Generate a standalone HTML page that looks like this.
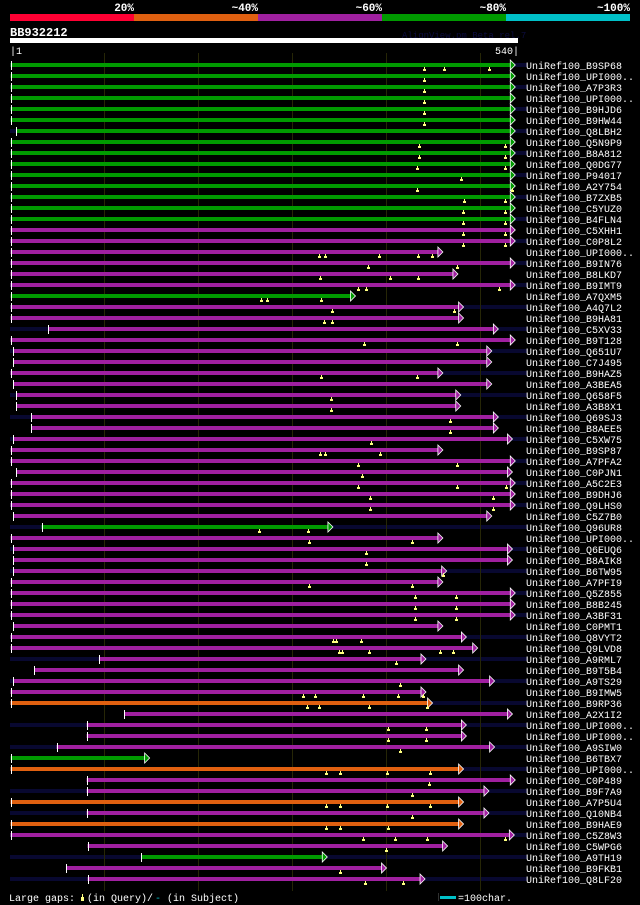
<!DOCTYPE html>
<html><head><meta charset="utf-8"><title>BB932212 alignment</title>
<style>
html,body{margin:0;padding:0;background:#000;}
svg{display:block;}
text{font-family:"Liberation Mono","DejaVu Sans Mono",monospace;}
</style></head>
<body>
<svg id="chart" width="640" height="905" viewBox="0 0 640 905" xmlns="http://www.w3.org/2000/svg">
<rect x="0" y="0" width="640" height="905" fill="#000"/>
<g>
<rect x="10" y="14" width="124" height="7" fill="#ff0033"/>
<rect x="134" y="14" width="124" height="7" fill="#e06010"/>
<rect x="258" y="14" width="124" height="7" fill="#a020a0"/>
<rect x="382" y="14" width="124" height="7" fill="#009a00"/>
<rect x="506" y="14" width="124" height="7" fill="#00c0c8"/>
<text x="134" y="11" fill="#fff" font-size="11" font-weight="bold" text-anchor="end">20%</text>
<text x="258" y="11" fill="#fff" font-size="11" font-weight="bold" text-anchor="end">~40%</text>
<text x="382" y="11" fill="#fff" font-size="11" font-weight="bold" text-anchor="end">~60%</text>
<text x="506" y="11" fill="#fff" font-size="11" font-weight="bold" text-anchor="end">~80%</text>
<text x="630" y="11" fill="#fff" font-size="11" font-weight="bold" text-anchor="end">~100%</text>
</g>
<text x="10" y="36" fill="#fff" font-size="12" font-weight="bold">BB932212</text>
<text x="402" y="38" fill="#0c0c40" font-size="9">AlignView.pm Beta rel.7</text>
<rect x="10" y="38" width="508" height="5" fill="#fff"/>
<text x="10" y="54" fill="#fff" font-size="10">|1</text>
<text x="519" y="54" fill="#fff" font-size="10" text-anchor="end">540|</text>
<g id="rows"></g>
<g>
<text x="9" y="901" fill="#fff" font-size="10">Large gaps:</text>
<rect x="82" y="894" width="1" height="3" fill="#ffff80"/>
<rect x="81" y="897" width="3" height="4" fill="#ffff80"/>
<text x="87" y="901" fill="#fff" font-size="10">(in Query)/</text>
<text x="155" y="901" fill="#00c0c8" font-size="10">-</text>
<text x="167" y="901" fill="#fff" font-size="10">(in Subject)</text>
<rect x="438" y="893" width="1" height="8" fill="#303030"/>
<rect x="440" y="896" width="16" height="3" fill="#00c0c8"/>
<text x="458" y="901" fill="#fff" font-size="10">=100char.</text>
</g>
</svg>
<script>
const names = ["B9SP68","UPI000..","A7P3R3","UPI000..","B9HJD6","B9HW44","Q8LBH2","Q5N9P9","B8A812","Q0DG77",
"P94017","A2Y754","B7ZXB5","C5YUZ0","B4FLN4","C5XHH1","C0P8L2","UPI000..","B9IN76","B8LKD7",
"B9IMT9","A7QXM5","A4Q7L2","B9HA81","C5XV33","B9T128","Q651U7","C7J495","B9HAZ5","A3BEA5",
"Q658F5","A3B8X1","Q69SJ3","B8AEE5","C5XW75","B9SP87","A7PFA2","C0PJN1","A5C2E3","B9DHJ6",
"Q9LHS0","C5Z7B0","Q96UR8","UPI000..","Q6EUQ6","B8AIK8","B6TW95","A7PFI9","Q5Z855","B8B245",
"A3BF31","C0PMT1","Q8VYT2","Q9LVD8","A9RML7","B9T5B4","A9TS29","B9IMW5","B9RP36","A2X1I2",
"UPI000..","UPI000..","A9SIW0","B6TBX7","UPI000..","C0P489","B9F7A9","A7P5U4","Q10NB4","B9HAE9",
"C5Z8W3","C5WPG6","A9TH19","B9FKB1","Q8LF20"];
const identity = ["g","g","g","g","g","g","g","g","g","g","g","g","g","g","g","p","p","p","p","p",
"p","g","p","p","p","p","p","p","p","p","p","p","p","p","p","p","p","p","p","p",
"p","p","g","p","p","p","p","p","p","p","p","p","p","p","p","p","p","p","o","p",
"p","p","p","g","o","p","p","o","p","o","p","p","g","p","p"];
const starts = [1,1,1,1,1,1,7,1,1,1,1,1,1,1,1,1,1,1,1,1,
1,1,1,1,41,1,4,4,1,4,7,7,23,23,4,1,1,7,1,1,
1,4,34,1,4,4,4,1,1,1,1,4,1,1,95,26,4,1,1,122,
82,82,50,1,1,82,82,1,82,1,1,83,140,60,83];
const ends = [538,538,538,538,538,538,538,538,538,538,538,538,538,538,538,538,538,461,538,477,
538,368,483,483,520,538,513,513,461,513,480,480,520,520,535,461,538,535,538,538,
538,513,344,461,535,535,465,461,538,538,538,461,486,498,443,483,516,443,450,535,
486,486,516,149,483,538,510,483,510,483,537,466,338,401,442];
const gaps = [[441,462,510],[441],[441],[441],[441],[441],[],[436,527],[436,527],[433,527],
[480],[433,534],[483,527],[482,527],[482,527],[482,527],[482,527],[329,336,393,434,449],[381,476],[330,405,434],
[371,379,521],[267,274,331],[343,473],[335,343],[],[377,476],[],[],[331,433],[],
[342],[342],[469],[469],[384],[330,336,394],[371,476],[375],[371,476,528],[383,514],
[383,514],[],[265,317],[319,428],[379],[379],[461],[319,428],[431,475],[431,475],
[431,475],[],[344,347,374],[350,354,382,458,472],[411],[],[415],[312,325,376,413,440],[316,329,382,444],[],
[403,443],[403,443],[415],[],[337,351,401,447],[446],[428],[337,351,401,447],[428],[337,351,403],
[376,410,444,527],[400],[],[351],[378,419]];
const gridTicks = [100,200,300,400,500];

const colorMap = {g:"#009a00", p:"#a020a0", o:"#e06010"};
const NS = "http://www.w3.org/2000/svg";
function xScale(p){ return 10.5 + (p - 1) * 0.94; }
function yRow(i){ return 65 + i * 11; }
const rowsG = document.getElementById('rows');
function mk(tag, attrs, parent){
  const el = document.createElementNS(NS, tag);
  for (const k in attrs) el.setAttribute(k, attrs[k]);
  (parent || rowsG).appendChild(el);
  return el;
}
for (let i = 0; i < names.length; i += 2) {
  const s = mk('rect', {x: 10, y: yRow(i) - 2, width: 517, height: 4, fill: "#080830"});
  
  
}
gridTicks.forEach(t => {
  const l = mk('rect', {x: Math.round(xScale(t)), y: 53, width: 1, height: 838, fill: "#262606"});
  
  
});
names.forEach((nm, i) => {
  const y = yRow(i);
  const col = colorMap[identity[i]];
  const x0 = xScale(starts[i]);
  const x1 = xScale(ends[i]);
  const g = mk('g', {});
  
  
  const bar = mk('rect', {x: x0, y: y - 2, width: Math.max(0, x1 - 5 - x0), height: 4, fill: col}, g);
  
  
  const tick = mk('rect', {x: Math.round(x0), y: y - 4, width: 1, height: 9, fill: "#fff"}, g);
  
  
  const arr = mk('polygon', {points: (x1-5)+","+(y-5)+" "+x1+","+y+" "+(x1-5)+","+(y+5), fill: col, stroke: "#fff", "stroke-width": 0.8}, g);
  
  
  gaps[i].forEach(p => {
    const gx = Math.round(xScale(p));
    const st = mk('rect', {x: gx, y: y + 2, width: 1, height: 2, fill: "#ffff80"}, g);
    
    
    const m = mk('rect', {x: gx - 1, y: y + 4, width: 3, height: 2, fill: "#ffff80"}, g);
    
    
  });
  const t = mk('text', {x: 526, y: y + 4, fill: "#fff", "font-size": 10}, g);
  t.textContent = "UniRef100_" + nm;
  
  
});
</script>
</body></html>
